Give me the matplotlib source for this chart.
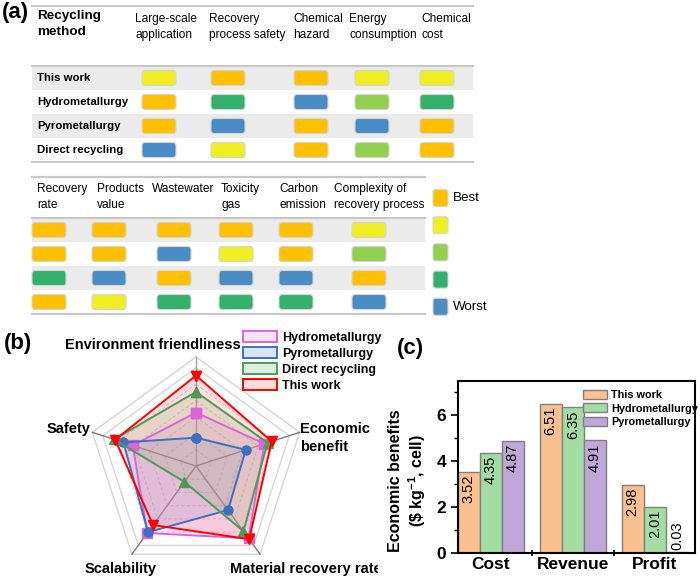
import matplotlib
matplotlib.use("Agg")
import matplotlib.pyplot as plt
from matplotlib.patches import FancyBboxPatch, Patch, Rectangle
from matplotlib import font_manager
import numpy as np

plt.rcParams['font.family'] = ['Liberation Sans', 'DejaVu Sans']
plt.rcParams['mathtext.fontset'] = 'custom'
plt.rcParams['mathtext.rm'] = 'Liberation Sans'
plt.rcParams['mathtext.bf'] = 'Liberation Sans:bold'

# narrow face for the table if there is one
names = set(f.name for f in font_manager.fontManager.ttflist)
NARROW = [n for n in ['Liberation Sans Narrow', 'DejaVu Sans Condensed'] if n in names] + ['Liberation Sans']
HAS_NARROW = len(NARROW) > 1

# ---------------- data ----------------
# (a) rating: 0 = best ... 4 = worst
level_colors = ['#FFC000', '#EEEE22', '#92D050', '#33B06B', '#4A8DC4']
methods = ['This work', 'Hydrometallurgy', 'Pyrometallurgy', 'Direct recycling']
criteria_top = ['Large-scale\napplication', 'Recovery\nprocess safety', 'Chemical\nhazard',
                'Energy\nconsumption', 'Chemical\ncost']
scores_top = [[1, 0, 0, 1, 1],
              [0, 3, 4, 2, 3],
              [0, 4, 0, 4, 0],
              [4, 1, 0, 2, 0]]
criteria_bot = ['Recovery\nrate', 'Products\nvalue', 'Wastewater', 'Toxicity\ngas',
                'Carbon\nemission', 'Complexity of\nrecovery process']
scores_bot = [[0, 0, 0, 0, 0, 1],
              [0, 0, 4, 1, 0, 2],
              [3, 4, 0, 4, 4, 0],
              [0, 1, 3, 3, 3, 4]]

# (b) radar, fraction of outer ring
radar_labels = ['Environment friendliness', 'Economic\nbenefit', 'Material recovery rate',
                'Scalability', 'Safety']
radar_names = ['Hydrometallurgy', 'Pyrometallurgy', 'Direct recycling', 'This work']
radar_hydro = [0.49, 0.66, 0.82, 0.76, 0.61]
radar_pyro = [0.26, 0.48, 0.50, 0.75, 0.70]
radar_direct = [0.68, 0.69, 0.74, 0.18, 0.79]
radar_this = [0.83, 0.73, 0.83, 0.67, 0.78]

# (c) economic benefits
eb_groups = ['Cost', 'Revenue', 'Profit']
eb_names = ['This work', 'Hydrometallurgy', 'Pyrometallurgy']
eb_this = [3.52, 6.51, 2.98]
eb_hydro = [4.35, 6.35, 2.01]
eb_pyro = [4.87, 4.91, 0.03]

fig = plt.figure(figsize=(7, 5.8), dpi=100)

# ---------------- (a) tables, axes in pixel units ----------------
ax_a = fig.add_axes([0, 1 - 330 / 580, 1, 330 / 580])
ax_a.set_xlim(0, 700)
ax_a.set_ylim(330, 0)
ax_a.axis('off')

fs_head = 10 if HAS_NARROW else 8.6
fs_row = 10 if HAS_NARROW else 8.2

def draw_table(ax, scores, heads, head_x, col_x, x0, x1, y_top, y_head, y_rows, row_h, first_col):
    line_c = '#C8C8C8'
    for i in range(len(methods)):
        cy = y_rows + (i + 0.5) * row_h
        if i % 2 == 0:
            ax.add_patch(Rectangle((x0, cy - row_h / 2), x1 - x0, row_h,
                                   facecolor='#EBEBEB', edgecolor='none', zorder=0))
        if first_col:
            ax.text(37, cy, methods[i], fontsize=fs_row, fontweight='bold', family=NARROW,
                    ha='left', va='center')
        for j, s in enumerate(scores[i]):
            ax.add_patch(FancyBboxPatch((col_x[j] - 17, cy - 7.5), 34, 15,
                                        boxstyle='round,pad=0,rounding_size=3',
                                        facecolor=level_colors[s], edgecolor='#D5D5D5',
                                        lw=0.8, zorder=2))
    y_end = y_rows + len(methods) * row_h
    for y in (y_top, y_rows, y_end):
        ax.plot([x0, x1], [y, y], color=line_c, lw=1.5, zorder=1)
    for h, hx in zip(heads, head_x):
        ax.text(hx, y_head, h, fontsize=fs_head, family=NARROW, ha='left', va='top',
                linespacing=1.45 if not HAS_NARROW else 1.25)

draw_table(ax_a, scores_top, criteria_top, [135, 209, 293, 349, 421],
           [159, 228, 311, 372, 437], 32, 473, 6, 13, 66, 24, True)
ax_a.text(37, 10, 'Recycling\nmethod', fontsize=fs_row + 1.5, fontweight='bold', family=NARROW,
          ha='left', va='top', linespacing=1.4)
draw_table(ax_a, scores_bot, criteria_bot, [37, 97, 152, 221, 279, 334],
           [49, 109, 174, 236, 296, 369], 32, 425, 177, 183, 218, 24, False)

# colour key
for k, c in enumerate(level_colors):
    ky = 198 + k * 27.2
    ax_a.add_patch(FancyBboxPatch((433, ky - 8.5), 15, 17,
                                  boxstyle='round,pad=0,rounding_size=2.5',
                                  facecolor=c, edgecolor='#D5D5D5', lw=0.8))
ax_a.text(453, 198, 'Best', fontsize=fs_head + 1, family=NARROW, va='center', ha='left')
ax_a.text(453, 307, 'Worst', fontsize=fs_head + 1, family=NARROW, va='center', ha='left')
ax_a.text(2, 2, '(a)', fontsize=16, fontweight='bold', va='top', ha='left')

# ---------------- (b) radar ----------------
R = 109.0
ax_b = fig.add_axes([0, 0, 378 / 700, 250 / 580])
ax_b.set_xlim(-196 / R, 182 / R)
ax_b.set_ylim(-114 / R, 136 / R)
ax_b.axis('off')

ang = np.deg2rad(90 - 72 * np.arange(5))
ca, sa = np.cos(ang), np.sin(ang)

for lev in [0.15, 0.3, 0.45, 0.6, 0.75]:
    ax_b.plot(np.append(ca, ca[0]) * lev, np.append(sa, sa[0]) * lev,
              color='#D0D0D0', lw=0.8, ls=(0, (3, 2)), zorder=1)
for lev in [0.9, 1.0]:
    ax_b.plot(np.append(ca, ca[0]) * lev, np.append(sa, sa[0]) * lev,
              color='#D5D5D5', lw=1.0, zorder=1)
for k in range(5):
    ax_b.plot([0, ca[k]], [0, sa[k]], color='#7A7A7A' if k else '#A0A0A0', lw=1.0, zorder=1)

styles = [('#D966D9', '#EE88EE', 's'),
          ('#3F6FC0', '#6A9AE0', 'o'),
          ('#4E9A5A', '#70C070', '^'),
          ('#FF0000', '#FF7070', 'v')]
handles = []
for vals, name, (lc, fc, mk) in zip([radar_hydro, radar_pyro, radar_direct, radar_this],
                                    radar_names, styles):
    v = np.array(vals)
    xs, ys = v * ca, v * sa
    ax_b.fill(xs, ys, color=fc, alpha=0.22, lw=0, zorder=2)
    ax_b.plot(np.append(xs, xs[0]), np.append(ys, ys[0]), color=lc, lw=1.4,
              marker=mk, ms=6.5, mfc=lc, mec=lc, zorder=3)
    handles.append(Patch(facecolor=matplotlib.colors.to_rgba(fc, 0.25), edgecolor=lc,
                         lw=1.4, label=name))

lab_pos = [(-0.40, 1.11, 'center'), (0.954, 0.257, 'left'), (0.312, -0.945, 'left'),
           (-0.688, -0.945, 'center'), (-0.972, 0.339, 'right')]
for lab, (lx, ly, ha) in zip(radar_labels, lab_pos):
    ax_b.text(lx, ly, lab, fontsize=10.5, fontweight='bold', ha=ha, va='center',
              linespacing=1.3, clip_on=True)

ax_b.legend(handles=handles, loc='upper left', bbox_to_anchor=(243 / 700, 1 - 331 / 580),
            bbox_transform=fig.transFigure, frameon=False, borderpad=0, borderaxespad=0,
            handlelength=2.7, handleheight=1.0, labelspacing=0.25, handletextpad=0.4,
            prop={'weight': 'bold', 'size': 9})
fig.text(4 / 700, 1 - 333 / 580, '(b)', fontsize=16, fontweight='bold', va='top', ha='left')

# ---------------- (c) bars ----------------
ax_c = fig.add_axes([458 / 700, 1 - 553 / 580, 237 / 700, 172 / 580])
w = 0.27
x = np.arange(len(eb_groups))
bar_cols = ['#FAC090', '#A3DDA3', '#BFA8D8']
for k, (vals, name) in enumerate(zip([eb_this, eb_hydro, eb_pyro], eb_names)):
    bars = ax_c.bar(x + (k - 1) * w, vals, w, color=bar_cols[k], edgecolor='#7F7F7F',
                    lw=1.0, label=name)
    for b, v in zip(bars, vals):
        if v > 1:
            ax_c.annotate('%.2f' % v, (b.get_x() + w / 2, v), xytext=(0, -2),
                          textcoords='offset points', rotation=90, ha='center', va='top',
                          fontsize=10.5)
        else:
            ax_c.annotate('%.2f' % v, (b.get_x() + w / 2, v), xytext=(0, 2),
                          textcoords='offset points', rotation=90, ha='center', va='bottom',
                          fontsize=10.5)
ax_c.set_xlim(-0.4, 2.49)
ax_c.set_ylim(0, 7.5)
ax_c.set_yticks([0, 2, 4, 6])
ax_c.set_yticks([1, 3, 5, 7], minor=True)
ax_c.set_xticks(x)
ax_c.set_xticklabels(eb_groups, fontsize=12.5, fontweight='bold')
ax_c.set_xticks([0.5, 1.5], minor=True)
ax_c.tick_params(axis='x', which='major', length=0, pad=3)
ax_c.tick_params(axis='x', which='minor', direction='inout', length=5, width=1.2)
ax_c.tick_params(axis='y', which='major', direction='out', length=5, width=1.2, labelsize=12.5)
ax_c.tick_params(axis='y', which='minor', direction='out', length=3, width=1.0)
for lbl in ax_c.get_yticklabels():
    lbl.set_fontweight('bold')
for sp in ax_c.spines.values():
    sp.set_linewidth(1.5)
ax_c.set_ylabel('Economic benefits\n(\\$ kg$^{\\mathbf{-1}}$, cell)', fontsize=11.5,
                fontweight='bold', linespacing=1.2)
ax_c.yaxis.set_label_coords(-0.125, 0.42)
ax_c.legend(loc='upper left', bbox_to_anchor=(0.505, 0.98), frameon=False, borderpad=0,
            handlelength=2.2, handleheight=0.9, labelspacing=0.3, handletextpad=0.4,
            prop={'weight': 'bold', 'size': 7.8})
fig.text(397 / 700, 1 - 338 / 580, '(c)', fontsize=16, fontweight='bold', va='top', ha='left')

fig.savefig('out.png', dpi=100)
